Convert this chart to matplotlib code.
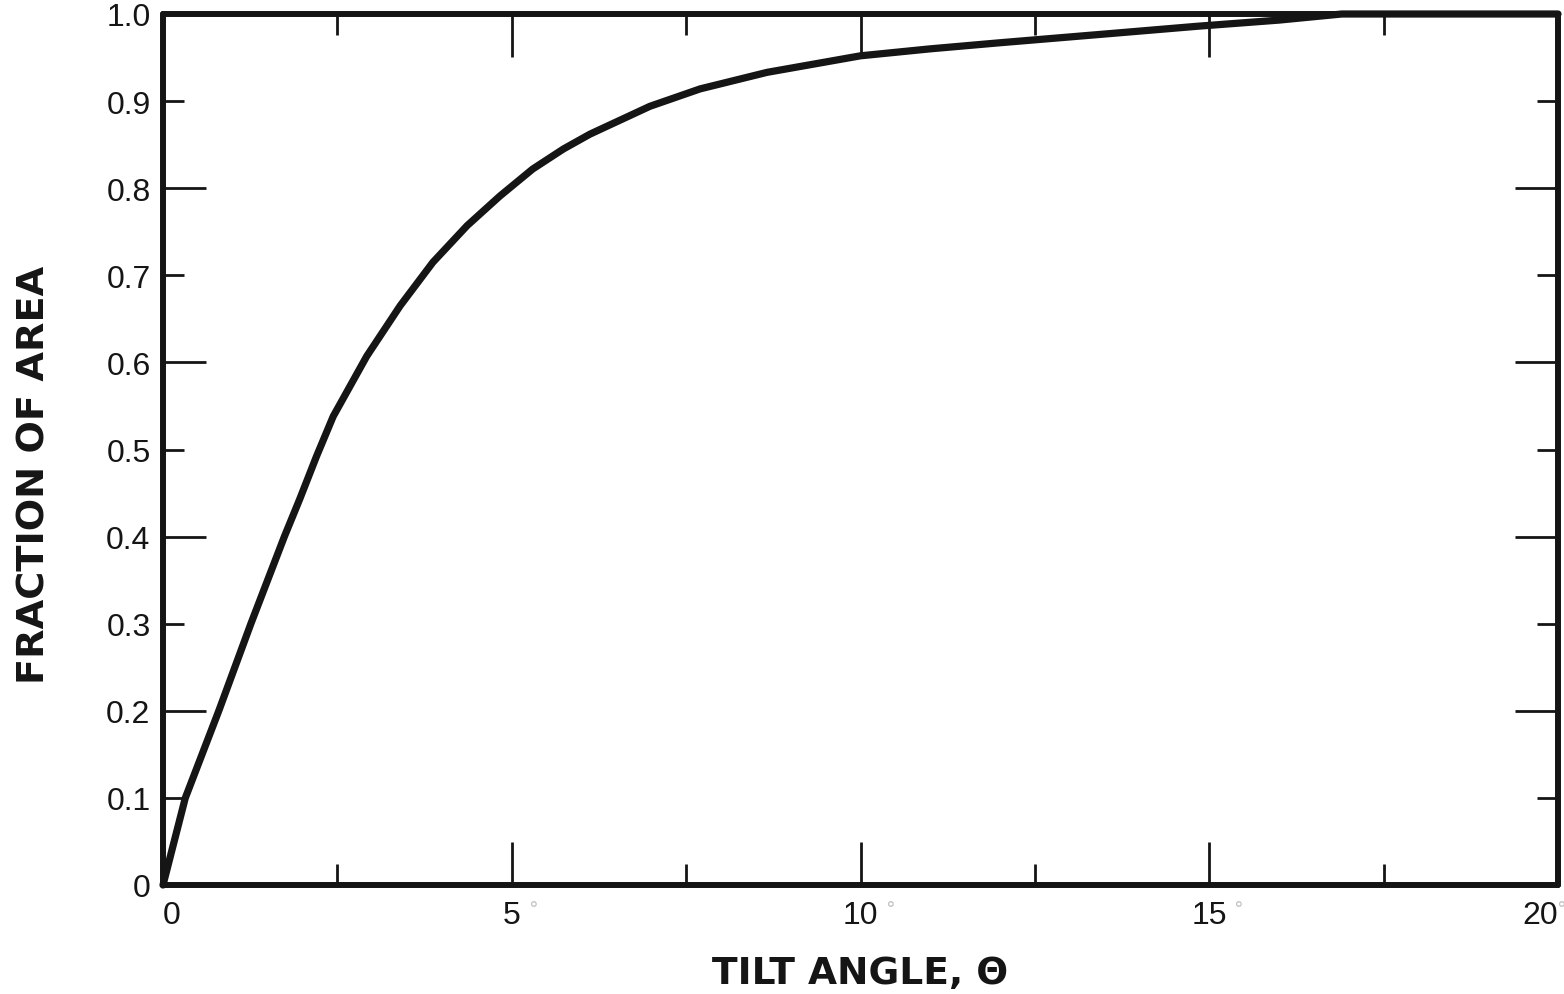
import numpy as np
from matplotlib import pyplot as plt
from matplotlib.ticker import MultipleLocator

# tilt angle (deg) vs. fraction of area
tilt = [0, 0.32, 0.80, 1.26, 1.74, 1.96, 2.20, 2.44, 2.92, 3.40, 3.87, 4.36, 4.83, 5.30,
        5.74, 6.12, 6.98, 7.70, 8.66, 10.0, 11.0, 12.0, 13.5, 14.84, 16.0, 16.9, 20.0]
fraction = [0, 0.10, 0.20, 0.30, 0.40, 0.443, 0.492, 0.538, 0.607, 0.665, 0.715, 0.757, 0.791,
            0.822, 0.845, 0.862, 0.894, 0.914, 0.933, 0.952, 0.960, 0.967, 0.977, 0.986,
            0.993, 1.0, 1.0]

x_ticks = [0, 5, 10, 15, 20]
x_tick_labels = ['0', '5', '10', '15', '20']
y_major = [0, 0.2, 0.4, 0.6, 0.8, 1.0]
y_major_labels = ['0', '0.2', '0.4', '0.6', '0.8', '1.0']
y_minor = [0.1, 0.3, 0.5, 0.7, 0.9]
y_minor_labels = ['0.1', '0.3', '0.5', '0.7', '0.9']

ink = '#151515'

fig = plt.figure(figsize=(15.64, 9.95), dpi=100)
ax = fig.add_axes([163 / 1564, 1 - 886 / 995, (1558 - 163) / 1564, (886 - 15) / 995])

ax.plot(tilt, fraction, color=ink, lw=5.2, solid_capstyle='round', solid_joinstyle='round',
        clip_on=False, zorder=3)

ax.set_xlim(0, 20)
ax.set_ylim(0, 1.0)

for s in ax.spines.values():
    s.set_linewidth(4.3)
    s.set_color(ink)
    s.set_capstyle('round')

ax.set_xticks(x_ticks, x_tick_labels)
ax.xaxis.set_minor_locator(MultipleLocator(2.5))
ax.set_yticks(y_major, y_major_labels)
ax.set_yticks(y_minor, y_minor_labels, minor=True)

ax.tick_params(axis='both', which='major', direction='in', length=31, width=2.0, color=ink,
               top=True, bottom=True, left=True, right=True, labelsize=23, labelcolor=ink)
ax.tick_params(axis='both', which='minor', direction='in', length=15, width=2.0, color=ink,
               top=True, bottom=True, left=True, right=True, labelsize=23, labelcolor=ink)
ax.tick_params(axis='x', which='both', pad=11)
ax.tick_params(axis='y', which='both', pad=9)

for lab in (ax.get_xticklabels() + ax.get_yticklabels()
            + ax.get_yticklabels(minor=True)):
    lab.set_fontfamily('Liberation Sans')
xl = ax.get_xticklabels()
xl[0].set_horizontalalignment('left')
xl[-1].set_horizontalalignment('right')

# faint degree marks after the angle labels
for v, dx in zip([5, 10, 15, 20], [15, 21, 21, 2]):
    ax.annotate('°', xy=(v, 0), xycoords='data', xytext=(dx, -10), textcoords='offset points',
                fontsize=14, color='#c4c4c4', fontfamily='DejaVu Sans', va='top', ha='center',
                annotation_clip=False)

fig.text(860 / 1564, 1 - 974 / 995, 'TILT ANGLE, Θ', ha='center', va='center',
         fontsize=27, fontweight='bold', fontfamily='DejaVu Sans', color=ink)
fig.text(35 / 1564, 1 - 475 / 995, 'FRACTION OF AREA', ha='center', va='center',
         rotation=90, fontsize=27.5, fontweight='bold', fontfamily='DejaVu Sans', color=ink)

fig.savefig('out.png', dpi=100, facecolor='white')
